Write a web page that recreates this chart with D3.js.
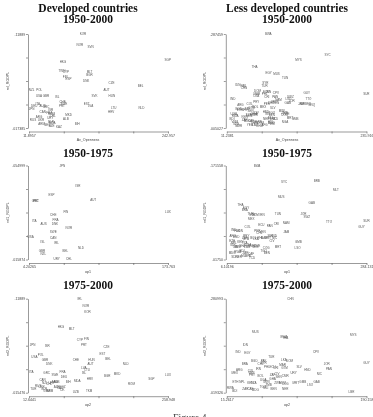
<!DOCTYPE html>
<html lang="en">
<head>
<meta charset="UTF-8"/>
<title>Figure 4</title>
<style>
    body { margin: 0; background: #fff; }
    svg { display: block; will-change: transform; }
    .ttl { font-family: "Liberation Serif", serif; font-weight: bold; font-size: 11.5px; fill: #111; }
    .ax text { font-family: "Liberation Sans", sans-serif; font-size: 3.6px; fill: #444; }
    .ax path, .ax line { stroke: #555; stroke-width: 0.6; }
    .atitle { font-family: "Liberation Sans", sans-serif; font-size: 3.6px; fill: #444; }
    .lab { font-family: "Liberation Sans", sans-serif; font-size: 3px; fill: #555; }
    .fig { font-family: "Liberation Serif", serif; font-size: 10px; fill: #444; }
</style>
</head>
<body>
<svg id="chart" width="373" height="417"></svg>

<script src="https://d3js.org/d3.v7.min.js"></script>
<script>

// --- Developed countries 1950-2000 ---
var devAllCodes = ["KOR","NOR","SVN","HKG","SGP","TWN","CYP","FIN","ESP","MLT","BGR","DNK","NZL","POL","CZE","BEL","AUT","USA","GBR","ISL","SVK","HUN","ITA","DEU","AUS","CHE","SWE","PRT","EST","LVA","JPN","GRC","ISR","LTU","HRV","NLD","CAN","FRA","ROM","MKD","ARG","URY","CHL","ALB","RUS","UKR","BLR","MDA","ARM","GEO","AZE","KAZ","BIH"];
var devAllX = [101.5,96.5,114.2,68.3,242.5,66.6,73.3,72.2,77.7,112.5,112.5,107.0,16.3,29.0,149.0,197.2,140.7,28.5,40.1,58.9,120.8,149.6,26.3,20.7,34.6,67.8,70.0,66.6,107.6,114.2,16.3,40.1,47.8,152.9,148.5,198.8,34.6,45.6,49.5,77.7,28.5,47.3,51.2,73.3,18.5,31.8,48.4,50.6,32.9,42.3,49.5,61.7,92.1];
var devAllY = [.1185,.1070,.1052,.0888,.0909,.0795,.0774,.0724,.0702,.0777,.0745,.0685,.0588,.0588,.0663,.0624,.0585,.0520,.0524,.0510,.0520,.0524,.0438,.0417,.0417,.0452,.0431,.0410,.0431,.0413,.0377,.0402,.0374,.0385,.0342,.0385,.0342,.0338,.0328,.0320,.0292,.0285,.0299,.0270,.0263,.0263,.0242,.0228,.0213,.0210,.0199,.0188,.0217];

// --- Less developed countries 1950-2000 ---
var ldcAllCodes = ["BWA","SYC","MYS","THA","EGY","MUS","TUN","IDN","PAK","CHN","SYR","TUR","IND","DOM","MAR","LKA","ECU","PHL","IRN","CPV","PAN","CRI","NAM","SWZ","LSO","JOR","GAB","GUY","TTO","JAM","BRB","FJI","GNQ","SUR","PRY","PER","CHL","URY","VEN","MEX","SLV","ARG","COL","GTM","BOL","ZAF","NPL","BGD","ETH","UGA","RWA","BDI","KEN","TZA","MOZ","CMR","CIV","SEN","GHA","HND","NIC","BEN","TGO","MWI","ZMB","ZWE","COG","MRT","GMB","NER","MLI","BFA","TCD","ZAR","MDG","CAF","SLE","GIN","GNB","COM","HTI","AGO","NGA","SDN","MMR","YEM","LAO","KHM","AFG","ERI","VNM"];
var ldcAllX = [77.9,173.3,126.4,56.0,78.4,91.2,105.0,28.8,37.9,38.9,73.1,72.0,20.8,60.8,59.7,58.7,74.7,72.0,78.4,90.1,89.1,75.7,94.4,113.6,110.4,115.7,109.3,139.7,142.4,130.6,135.4,143.4,147.7,235.6,58.7,75.7,82.1,86.9,90.7,69.3,85.3,33.1,48.0,51.2,57.1,44.3,39.5,30.4,32.0,22.4,24.6,19.8,40.0,46.4,47.5,56.0,58.7,49.6,55.0,74.1,77.3,83.7,83.7,99.7,104.0,106.7,104.0,113.0,121.0,74.7,81.6,84.8,89.1,40.0,44.3,50.2,54.4,57.6,62.4,65.6,81.1,82.7,105.0,26.2,30.4,48.6,56.6,64.0,72.0,84.8,24.0];
var ldcAllY = [.2870,.226,.208,.187,.170,.167,.154,.134,.130,.124,.139,.130,.093,.116,.108,.100,.112,.106,.112,.109,.098,.097,.089,.098,.092,.087,.081,.109,.092,.077,.077,.076,.073,.106,.083,.078,.080,.082,.079,.069,.066,.074,.077,.066,.067,.062,.060,.062,.058,.048,.040,.033,.038,.043,.040,.043,.051,.056,.048,.054,.048,.045,.050,.057,.051,.047,.043,.035,.031,.033,.034,.032,.033,.030,.025,.026,.023,.021,.023,.021,.023,.020,.023,.018,.010,.013,.015,.012,.014,.016,.023];

// --- Developed countries 1950-1975 ---
var dev1Codes = ["JPN","ISR","ESP","AUT","GRC","PRT","CHE","FIN","ITA","AUS","FRA","DNK","NOR","LUX","USA","SWE","CAN","IRL","ISL","GBR","NZL","BEL","NLD","URY","CHL"];
var dev1X = [44.8,63.8,31.8,82.5,11.5,12.7,33.8,49.2,10.7,22.0,36.6,35.8,52.9,173.7,6.2,33.8,33.8,37.9,20.8,20.0,21.6,48.4,67.5,37.9,52.9];
var dev1Y = [.0549,.0463,.0429,.0408,.0401,.0402,.0343,.0357,.0318,.0306,.0323,.0306,.0288,.0355,.0254,.0272,.0248,.0226,.0231,.0195,.0181,.0194,.0205,.0160,.0160];

// --- Less developed countries 1950-1975 ---
var ldc1Codes = ["BWA","SYC","BRB","MLT","MUS","GAB","THA","EGY","BRA","TUR","SYR","DOM","IRN","TUN","JOR","SWZ","MEX","COL","ECU","PAN","CRI","NAM","TTO","SUR","GUY","IND","PAK","IDN","PRY","PER","CHL","VEN","SLV","HND","NIC","JAM","ARG","BGD","ZAF","GTM","BOL","LKA","PHL","MAR","URY","CIV","ETH","NPL","KEN","TZA","UGA","CMR","SEN","MWI","GHA","ZMB","ZWE","COG","MRT","GMB","LSO","MDG","RWA","BDI","ZAR","CAF","TGO","BEN","SDN","NER","MLI","BFA","TCD","SLE","GIN"];
var ldc1X = [66.2,120.3,185.1,223.4,114.4,175.2,33.2,44.4,41.8,53.6,56.3,62.9,76.1,107.8,158.7,165.3,55.0,47.7,74.8,91.3,104.5,124.3,209.5,284.1,274.2,20.0,26.6,33.2,45.1,66.9,70.8,77.4,92.6,99.2,101.2,124.3,18.0,24.6,41.8,44.4,58.9,64.2,72.8,80.1,88.0,95.9,16.7,20.0,33.2,41.8,48.4,55.0,62.9,27.9,36.5,46.4,66.2,84.7,107.8,148.7,146.8,16.7,27.9,36.5,43.1,54.3,79.4,86.0,21.3,29.9,39.8,48.4,56.3,18.0,23.3];
var ldc1Y = [.1710,.1441,.1462,.1312,.1199,.1096,.1064,.1021,.0988,.0918,.0902,.0908,.0908,.0924,.0924,.0875,.0838,.0708,.0741,.0719,.0757,.0773,.0784,.0805,.0708,.0654,.0649,.0638,.0557,.0644,.0606,.0622,.0568,.0557,.0520,.0628,.0568,.0552,.0536,.0504,.0536,.0514,.0531,.0525,.0536,.0487,.0477,.0439,.0461,.0444,.0417,.0401,.0385,.0374,.0396,.0374,.0401,.0358,.0385,.0461,.0358,.0277,.0304,.0320,.0288,.0267,.0320,.0283,.0213,.0218,.0240,.0229,.0197,.0412,.0385];

// --- Developed countries 1975-2000 ---
var dev2Codes = ["IRL","NOR","KOR","HKG","MLT","CYP","FIN","PRT","JPN","ISR","CZE","USA","POL","GBR","DNK","CHE","HUN","AUT","BEL","EST","NLD","ITA","GRC","SWE","FRA","DEU","LVA","LTU","ISL","HRV","BGR","MKD","LUX","SGP","ROM","CAN","NZL","CHL","URY","ARG","ALB","BIH","MDA","RUS","UKR","BLR","GEO","ARM","AZE","KAZ","KGZ","TJK","TUR","UZB","TKM"];
var dev2X = [102.8,113.4,116.3,69.2,88.1,102.8,114.6,109.9,19.1,45.0,149.9,22.1,33.3,40.9,48.6,95.7,123.4,121.7,152.9,142.9,184.1,16.8,43.9,58.6,72.2,74.5,109.9,115.8,109.9,120.5,151.1,168.8,258.9,229.5,194.1,36.8,40.9,48.6,52.7,58.6,61.5,82.2,98.1,29.1,35.0,39.8,43.9,49.8,61.5,67.4,72.2,71.0,20.3,95.7,119.3];
var dev2Y = [.1186,.1105,.1046,.0877,.0852,.0730,.0742,.0676,.0683,.0668,.0654,.0551,.0569,.0514,.0470,.0518,.0514,.0467,.0521,.0576,.0467,.0378,.0367,.0349,.0386,.0327,.0422,.0400,.0367,.0301,.0338,.0356,.0349,.0309,.0250,.0298,.0265,.0254,.0265,.0268,.0276,.0276,.0283,.0224,.0213,.0195,.0177,.0173,.0217,.0202,.0217,.0180,.0191,.0162,.0177];

// --- Less developed countries 1975-2000 ---
var ldc2Codes = ["CHN","MUS","BWA","THA","MYS","IDN","IND","EGY","CPV","TUR","PAK","LKA","DOM","BGD","BRA","CHL","SYR","GUY","JOR","PAN","ARG","MEX","COL","VEN","IRN","PHL","ECU","CRI","MAR","GTM","SLV","HND","NIC","URY","PRY","BOL","ZAF","CIV","SEN","CMR","GHA","ETH","NPL","KEN","TZA","UGA","MWI","ZMB","ZWE","MOZ","COG","MRT","GMB","LSO","GAB","RWA","BDI","ZAR","CAF","MDG","TGO","BEN","NER","MLI","LBR"];
var ldc2X = [95.0,51.0,86.7,88.4,173.5,38.5,29.4,41.0,127.0,70.9,61.4,86.7,93.8,49.7,37.7,57.6,61.4,190.1,140.3,143.2,31.0,25.2,45.2,46.0,54.7,65.5,72.6,76.7,85.0,87.5,105.8,116.2,131.2,98.8,46.8,57.6,72.6,78.0,80.1,88.4,72.6,26.1,34.4,44.8,48.9,61.0,65.1,67.6,78.8,85.0,88.4,101.7,110.4,119.5,127.8,19.8,25.2,38.5,44.8,51.0,60.5,73.8,88.4,64.3,171.4];
var ldc2Y = [.2809,.1882,.1734,.1706,.1789,.1520,.1335,.1307,.1325,.1177,.1075,.1112,.1084,.1075,.0991,.0991,.1019,.1010,.0982,.0843,.0824,.0731,.0796,.0741,.0852,.0898,.0908,.0889,.0963,.0871,.0917,.0815,.0713,.0741,.0685,.0657,.0685,.0704,.0639,.0667,.0574,.0481,.0490,.0462,.0453,.0546,.0499,.0407,.0453,.0462,.0425,.0453,.0481,.0407,.0481,.0314,.0249,.0295,.0286,.0268,.0351,.0305,.0295,.0314,.0212];

// axis end labels (min, max) as printed on the figure
var xEnds = [["11.8957","242.957"],["11.2381","235.916"],["4.20265","173.763"],["6.10196","284.131"],["12.6441","258.948"],["15.2617","190.158"]];
var yEnds = [[".017385",".11889"],[".005027",".287459"],[".015874",".054999"],[".01750",".171558"],[".015476",".11889"],[".019326",".280993"]];
var xTitles = ["Av_Openness","Av_Openness","op1","op1","op2","op2"];
var yTitles = ["rel_RGDPL","rel_RGDPL","rel1_RGDPL","rel1_RGDPL","rel2_RGDPL","rel2_RGDPL"];

var svg = d3.select("#chart");

// panel frames (tick extents in pixels)
var frames = [
    {L: 29,    R: 168,   T: 34,  B: 128,   cx: 88},
    {L: 226.8, R: 366.5, T: 34,  B: 128,   cx: 287},
    {L: 29,    R: 168,   T: 165.5, B: 259.5, cx: 88},
    {L: 226.8, R: 366.5, T: 165.5, B: 259.5, cx: 287},
    {L: 29,    R: 168,   T: 298.7, B: 392.7, cx: 88},
    {L: 226.8, R: 366.5, T: 298.7, B: 392.7, cx: 287}
];
var data = [
    [devAllCodes, devAllX, devAllY],
    [ldcAllCodes, ldcAllX, ldcAllY],
    [dev1Codes, dev1X, dev1Y],
    [ldc1Codes, ldc1X, ldc1Y],
    [dev2Codes, dev2X, dev2Y],
    [ldc2Codes, ldc2X, ldc2Y]
];

// titles
svg.append("text").attr("class", "ttl").attr("x", 88).attr("y", 11.5).attr("text-anchor", "middle").text("Developed countries");
svg.append("text").attr("class", "ttl").attr("x", 88).attr("y", 23).attr("text-anchor", "middle").text("1950-2000");
svg.append("text").attr("class", "ttl").attr("x", 287).attr("y", 11.5).attr("text-anchor", "middle").text("Less developed countries");
svg.append("text").attr("class", "ttl").attr("x", 287).attr("y", 23).attr("text-anchor", "middle").text("1950-2000");
[88, 287].forEach(function (cx) {
    svg.append("text").attr("class", "ttl").attr("x", cx).attr("y", 156.5).attr("text-anchor", "middle").text("1950-1975");
    svg.append("text").attr("class", "ttl").attr("x", cx).attr("y", 289).attr("text-anchor", "middle").text("1975-2000");
});

frames.forEach(function (f, i) {
    var xmin = +xEnds[i][0], xmax = +xEnds[i][1];
    var ymin = +yEnds[i][0], ymax = +yEnds[i][1];
    var x = d3.scaleLinear().domain([xmin, xmax]).range([f.L, f.R]);
    var y = d3.scaleLinear().domain([ymin, ymax]).range([f.B, f.T]);
    var xt = d3.range(5).map(function (k) { return xmin + k * (xmax - xmin) / 4; });
    var yt = d3.range(5).map(function (k) { return ymin + k * (ymax - ymin) / 4; });

    // slight opacity keeps the tiny labels on greyscale antialiasing
    var g = svg.append("g").attr("opacity", 0.995);

    g.append("g").attr("class", "ax")
        .attr("transform", "translate(0," + (f.B + 3.5) + ")")
        .call(d3.axisBottom(x).tickValues(xt).tickSize(2).tickSizeOuter(0).tickPadding(0.6)
            .tickFormat(function (d, k) { return k === 0 ? xEnds[i][0] : (k === 4 ? xEnds[i][1] : ""); }));

    g.append("g").attr("class", "ax")
        .attr("transform", "translate(" + (f.L - 1) + ",0)")
        .call(d3.axisLeft(y).tickValues(yt).tickSize(2).tickSizeOuter(0).tickPadding(0.8)
            .tickFormat(function (d, k) { return k === 0 ? yEnds[i][0] : (k === 4 ? yEnds[i][1] : ""); }));

    g.selectAll(".ax .domain").attr("fill", "none");

    g.append("text").attr("class", "atitle")
        .attr("x", f.cx).attr("y", f.B + 13)
        .attr("text-anchor", "middle").text(xTitles[i]);
    g.append("text").attr("class", "atitle")
        .attr("transform", "translate(" + (f.L - 20.5) + "," + ((f.T + f.B) / 2) + ") rotate(-90)")
        .attr("text-anchor", "middle").text(yTitles[i]);

    var d = data[i];
    g.selectAll(".lab").data(d[0]).enter().append("text")
        .attr("class", "lab")
        .attr("x", function (c, k) { return x(d[1][k]); })
        .attr("y", function (c, k) { return y(d[2][k]); })
        .attr("dy", "0.35em")
        .attr("text-anchor", "middle")
        .text(function (c) { return c; });
});

svg.append("text").attr("class", "fig").attr("x", 173).attr("y", 421).text("Figure 4");

</script>
</body>
</html>
